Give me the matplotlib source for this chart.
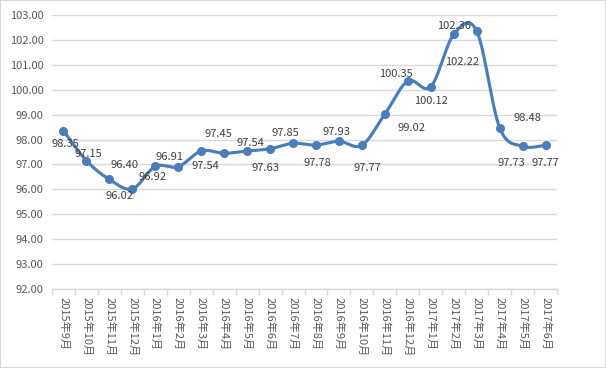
import numpy as np
import matplotlib
matplotlib.use('Agg')
import matplotlib.pyplot as plt
from matplotlib.patches import Rectangle
from matplotlib.ticker import FormatStrFormatter, FixedLocator

plt.rcParams['font.family'] = ['Noto Sans CJK SC', 'DejaVu Sans']

months = ['2015年9月', '2015年10月', '2015年11月', '2015年12月',
          '2016年1月', '2016年2月', '2016年3月', '2016年4月', '2016年5月',
          '2016年6月', '2016年7月', '2016年8月', '2016年9月', '2016年10月',
          '2016年11月', '2016年12月', '2017年1月', '2017年2月', '2017年3月',
          '2017年4月', '2017年5月', '2017年6月']
values = [98.35, 97.15, 96.40, 96.02, 96.92, 96.91, 97.54, 97.45, 97.54,
          97.63, 97.85, 97.78, 97.93, 97.77, 99.02, 100.35, 100.12, 102.22,
          102.36, 98.48, 97.73, 97.77]

# label offsets in pixels (dx right, dy down) -- styling only
label_offsets = [(2, 13), (2, -7), (15, -14), (-13, 7), (-3, 11), (-9, -10),
                 (4, 15), (-6, -19), (3, -8), (-5, 19), (-8, -10), (1, 18),
                 (-2, -9), (5, 23), (27, 14), (-12, -7), (0, 14), (8, 28),
                 (-23, -5), (28, -10), (-11, 17), (0, 18)]

color = '#4A7EBB'


def smooth(xs, ys, n=30):
    pts = np.column_stack([xs, ys]).astype(float)
    out = []
    m = len(pts)
    for i in range(m - 1):
        p0 = pts[i - 1] if i > 0 else pts[i]
        p1 = pts[i]
        p2 = pts[i + 1]
        p3 = pts[i + 2] if i + 2 < m else pts[i + 1]
        c1 = p1 + (p2 - p0) / 6.0
        c2 = p2 - (p3 - p1) / 6.0
        t = np.linspace(0, 1, n, endpoint=(i == m - 2))[:, None]
        seg = ((1 - t) ** 3) * p1 + 3 * ((1 - t) ** 2) * t * c1 + \
            3 * (1 - t) * t ** 2 * c2 + t ** 3 * p2
        out.append(seg)
    out = np.vstack(out)
    return out[:, 0], out[:, 1]


fig = plt.figure(figsize=(6.06, 3.68), dpi=100)
fig.patches.append(Rectangle((0, 0), 1, 1, transform=fig.transFigure,
                             fill=False, edgecolor='#D9D9D9', linewidth=1.5))
ax = fig.add_axes([52 / 606, 1 - 289 / 368, (557 - 52) / 606, (289 - 15) / 368])

x = np.arange(len(values))
sx, sy = smooth(x, values)
ax.plot(sx, sy, color=color, linewidth=2.25, solid_capstyle='round', zorder=3)
ax.plot(x, values, 'o', color=color, markersize=5.5, zorder=4)

for xi, v, (dx, dy) in zip(x, values, label_offsets):
    ax.annotate(f'{v:.2f}', (xi, v), xytext=(dx, -dy), textcoords='offset pixels',
                ha='center', va='center', fontsize=8, color='#404040', zorder=5)

ax.set_ylim(92, 103)
ax.set_xlim(-0.5, len(values) - 0.5)
ax.set_yticks(np.arange(92, 103.5, 1))
ax.yaxis.set_major_formatter(FormatStrFormatter('%.2f'))
ax.grid(axis='y', color='#D9D9D9', linewidth=1)
ax.set_axisbelow(True)

ax.set_xticks(x)
ax.set_xticklabels(months, rotation=-90, fontsize=8, color='#595959')
ax.xaxis.set_minor_locator(FixedLocator(np.arange(-0.5, len(values), 1)))
ax.tick_params(axis='x', which='major', length=0, pad=6)
ax.tick_params(axis='x', which='minor', length=4, color='#D9D9D9', width=1)
ax.tick_params(axis='y', length=0, labelsize=8, labelcolor='#595959', pad=6)
for lab in ax.get_xticklabels():
    lab.set_va('top')
    lab.set_ha('center')

for s in ['top', 'right', 'left']:
    ax.spines[s].set_visible(False)
ax.spines['bottom'].set_color('#D9D9D9')
ax.spines['bottom'].set_linewidth(1)

fig.savefig('out.png', dpi=100)
